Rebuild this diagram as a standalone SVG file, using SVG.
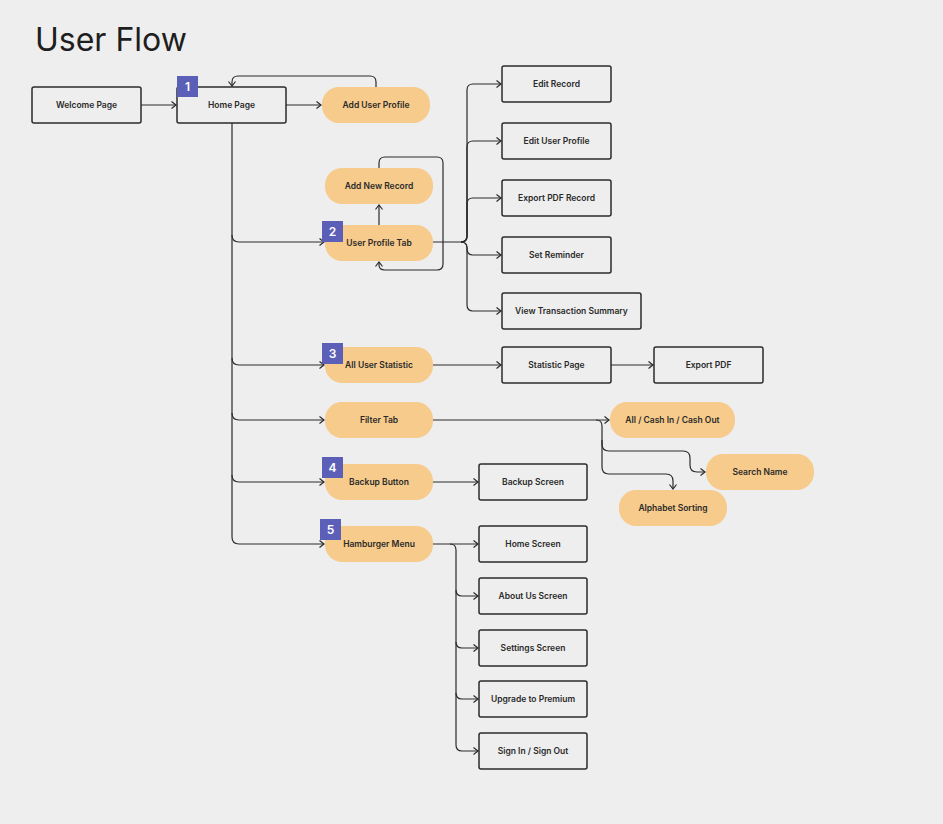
<svg xmlns="http://www.w3.org/2000/svg" width="943" height="824" viewBox="0 0 943 824">
<defs>
<marker id="arr" markerWidth="8" markerHeight="10" refX="5" refY="4" orient="auto" markerUnits="userSpaceOnUse">
<path d="M0.5,0.5 L5,4 L0.5,7.5" fill="none" stroke="#2b2b2b" stroke-width="1.2"/>
</marker>
</defs>
<style>
.bg{fill:#eeeeee}
.box{fill:#eeeeee;stroke:#2b2b2b;stroke-width:1.5}
.pill{fill:#f7cb8b}
.badge{fill:#5c5fb8}
.bt{font-family:Inter,"Liberation Sans",sans-serif;font-size:12px;font-weight:600;fill:#ffffff;text-anchor:middle}
.t{font-family:Inter,"Liberation Sans",sans-serif;font-size:8.5px;font-weight:600;fill:#2a2a2a;text-anchor:middle}
.title{font-family:Inter,"Liberation Sans",sans-serif;font-size:32px;font-weight:400;fill:#1e1e1e}
.c{fill:none;stroke:#2b2b2b;stroke-width:1.2}
</style>
<rect class="bg" x="0" y="0" width="943" height="824"/>
<text class="title" x="35" y="51">User Flow</text>

<g id="connectors">
<path class="c" d="M141,105 H176" marker-end="url(#arr)"/>
<path class="c" d="M286,105 H321" marker-end="url(#arr)"/>
<path class="c" d="M376,87 V82 Q376,76 370,76 H238 Q232,76 232,82 V86" marker-end="url(#arr)"/>
<path class="c" d="M232,123 V537 Q232,544 239,544 H324" marker-end="url(#arr)"/>
<path class="c" d="M232,235 Q232,242 239,242 H324" marker-end="url(#arr)"/>
<path class="c" d="M232,358 Q232,365 239,365 H324" marker-end="url(#arr)"/>
<path class="c" d="M232,413 Q232,420 239,420 H324" marker-end="url(#arr)"/>
<path class="c" d="M232,475 Q232,482 239,482 H324" marker-end="url(#arr)"/>
<path class="c" d="M379,225 V205" marker-end="url(#arr)"/>
<path class="c" d="M379,168 V163 Q379,157 385,157 H437 Q443,157 443,163 V264 Q443,270 437,270 H385 Q379,270 379,265 V262" marker-end="url(#arr)"/>
<path class="c" d="M433,242 H461 Q467,242 467,236 V90 Q467,84 473,84 H501" marker-end="url(#arr)"/>
<path class="c" d="M461,242 Q467,242 467,236 V147 Q467,141 473,141 H501" marker-end="url(#arr)"/>
<path class="c" d="M461,242 Q467,242 467,236 V204 Q467,198 473,198 H501" marker-end="url(#arr)"/>
<path class="c" d="M461,242 Q467,242 467,248 V249 Q467,255 473,255 H501" marker-end="url(#arr)"/>
<path class="c" d="M461,242 Q467,242 467,248 V305 Q467,311 473,311 H501" marker-end="url(#arr)"/>
<path class="c" d="M433,365 H501" marker-end="url(#arr)"/>
<path class="c" d="M611,365 H653" marker-end="url(#arr)"/>
<path class="c" d="M433,420 H609" marker-end="url(#arr)"/>
<path class="c" d="M596,420 Q602,420 602,426 V444 Q602,451 609,451 H683 Q690,451 690,458 V465 Q690,472 697,472 H705" marker-end="url(#arr)"/>
<path class="c" d="M602,440 V467 Q602,474 609,474 H666 Q673,474 673,481 V489" marker-end="url(#arr)"/>
<path class="c" d="M433,482 H478" marker-end="url(#arr)"/>
<path class="c" d="M433,544 H478" marker-end="url(#arr)"/>
<path class="c" d="M450,544 Q456,544 456,550 V745 Q456,751 462,751 H478" marker-end="url(#arr)"/>
<path class="c" d="M456,590 Q456,596 462,596 H478" marker-end="url(#arr)"/>
<path class="c" d="M456,642 Q456,648 462,648 H478" marker-end="url(#arr)"/>
<path class="c" d="M456,693 Q456,699 462,699 H478" marker-end="url(#arr)"/>
</g>

<g id="welcome-page"><rect class="box" x="32" y="87" width="109" height="36" rx="2"/><text class="t" x="86.5" y="108">Welcome Page</text></g>
<g id="home-page"><rect class="box" x="177" y="87" width="109" height="36" rx="2"/><text class="t" x="231.5" y="108">Home Page</text>
<rect class="badge" x="177" y="76" width="21" height="21"/><text class="bt" x="187.5" y="91">1</text></g>
<g id="add-user-profile"><rect class="pill" x="322" y="87" width="108" height="36" rx="17"/><text class="t" x="376" y="108">Add User Profile</text></g>

<g id="add-new-record"><rect class="pill" x="325" y="168" width="108" height="36" rx="17"/><text class="t" x="379" y="189">Add New Record</text></g>
<g id="user-profile-tab"><rect class="pill" x="325" y="225" width="108" height="36" rx="17"/><text class="t" x="379" y="246">User Profile Tab</text>
<rect class="badge" x="322" y="221" width="21" height="21"/><text class="bt" x="332.5" y="236">2</text></g>

<g id="edit-record"><rect class="box" x="502" y="66" width="109" height="36" rx="2"/><text class="t" x="556.5" y="87">Edit Record</text></g>
<g id="edit-user-profile"><rect class="box" x="502" y="123" width="109" height="36" rx="2"/><text class="t" x="556.5" y="144">Edit User Profile</text></g>
<g id="export-pdf-record"><rect class="box" x="502" y="180" width="109" height="36" rx="2"/><text class="t" x="556.5" y="201">Export PDF Record</text></g>
<g id="set-reminder"><rect class="box" x="502" y="237" width="109" height="36" rx="2"/><text class="t" x="556.5" y="258">Set Reminder</text></g>
<g id="view-transaction-summary"><rect class="box" x="502" y="293" width="139" height="36" rx="2"/><text class="t" x="571.5" y="314">View Transaction Summary</text></g>

<g id="all-user-statistic"><rect class="pill" x="325" y="347" width="108" height="36" rx="17"/><text class="t" x="379" y="368">All User Statistic</text>
<rect class="badge" x="322" y="343" width="21" height="21"/><text class="bt" x="332.5" y="358">3</text></g>
<g id="statistic-page"><rect class="box" x="502" y="347" width="109" height="36" rx="2"/><text class="t" x="556.5" y="368">Statistic Page</text></g>
<g id="export-pdf"><rect class="box" x="654" y="347" width="109" height="36" rx="2"/><text class="t" x="708.5" y="368">Export PDF</text></g>

<g id="filter-tab"><rect class="pill" x="325" y="402" width="108" height="36" rx="17"/><text class="t" x="379" y="423">Filter Tab</text></g>
<g id="all-cash"><rect class="pill" x="610" y="402" width="125" height="36" rx="17"/><text class="t" x="672.5" y="423">All / Cash In / Cash Out</text></g>
<g id="search-name"><rect class="pill" x="706" y="454" width="108" height="36" rx="17"/><text class="t" x="760" y="475">Search Name</text></g>
<g id="alphabet-sorting"><rect class="pill" x="619" y="490" width="108" height="36" rx="17"/><text class="t" x="673" y="511">Alphabet Sorting</text></g>

<g id="backup-button"><rect class="pill" x="325" y="464" width="108" height="36" rx="17"/><text class="t" x="379" y="485">Backup Button</text>
<rect class="badge" x="322" y="457" width="21" height="21"/><text class="bt" x="332.5" y="472">4</text></g>
<g id="backup-screen"><rect class="box" x="479" y="464" width="108" height="36" rx="2"/><text class="t" x="533" y="485">Backup Screen</text></g>

<g id="hamburger-menu"><rect class="pill" x="325" y="526" width="108" height="36" rx="17"/><text class="t" x="379" y="547">Hamburger Menu</text>
<rect class="badge" x="320" y="519" width="21" height="21"/><text class="bt" x="330.5" y="534">5</text></g>
<g id="home-screen"><rect class="box" x="479" y="526" width="108" height="36" rx="2"/><text class="t" x="533" y="547">Home Screen</text></g>
<g id="about-us-screen"><rect class="box" x="479" y="578" width="108" height="36" rx="2"/><text class="t" x="533" y="599">About Us Screen</text></g>
<g id="settings-screen"><rect class="box" x="479" y="630" width="108" height="36" rx="2"/><text class="t" x="533" y="651">Settings Screen</text></g>
<g id="upgrade-premium"><rect class="box" x="479" y="681" width="108" height="36" rx="2"/><text class="t" x="533" y="702">Upgrade to Premium</text></g>
<g id="sign-in-out"><rect class="box" x="479" y="733" width="108" height="36" rx="2"/><text class="t" x="533" y="754">Sign In / Sign Out</text></g>
</svg>
